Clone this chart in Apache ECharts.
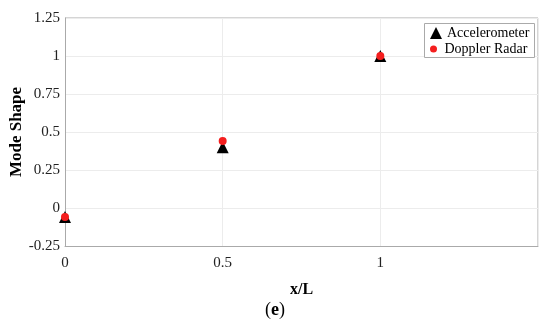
<!DOCTYPE html>
<html><head><meta charset="utf-8">
<script src="https://cdn.jsdelivr.net/npm/echarts@6/dist/echarts.min.js"></script>
<style>html,body{margin:0;padding:0;background:#fff}#c{width:550px;height:322px}</style>
</head><body><div id="c"></div>
<script>
const xPositions = [0, 0.5, 1];
const accelerometer = [-0.06, 0.40, 1.0];
const dopplerRadar = [-0.06, 0.44, 1.0];
const seriesNames = ['Accelerometer', 'Doppler Radar'];

const font = '"Liberation Serif", "Times New Roman", serif';
const chart = echarts.init(document.getElementById('c'));
const legendText = {fontFamily: font, fontSize: 14, color: '#000'};
chart.setOption({
  animation: false,
  backgroundColor: '#fff',
  grid: {left: 65, right: 12, top: 18, bottom: 76, containLabel: false, outerBoundsMode: 'none'},
  legend: [
    {left: 430, top: 26, orient: 'vertical', itemWidth: 12, itemHeight: 12, padding: 0, itemGap: 0,
      textStyle: legendText, data: [{name: seriesNames[0], icon: 'triangle'}]},
    {left: 430, top: 42, orient: 'vertical', itemWidth: 12, itemHeight: 7, padding: 0, itemGap: 0,
      textStyle: legendText, data: [{name: seriesNames[1], icon: 'circle'}]}
  ],
  xAxis: {
    type: 'value', min: 0, max: 1.5, interval: 0.5,
    name: 'x/L', nameLocation: 'middle', nameGap: 36, nameMoveOverlap: false,
    nameTextStyle: {fontFamily: font, fontSize: 16, fontWeight: 'bold', color: '#000'},
    axisLine: {onZero: false, lineStyle: {color: '#aaa'}}, axisTick: {show: false},
    axisLabel: {fontFamily: font, fontSize: 15, color: '#222', margin: 10,
      formatter: v => v === 1.5 ? '' : String(v)},
    splitLine: {show: true, lineStyle: {color: '#ececec'}}
  },
  yAxis: {
    type: 'value', min: -0.25, max: 1.25, interval: 0.25,
    name: 'Mode Shape', nameLocation: 'middle', nameGap: 40, nameMoveOverlap: false,
    nameTextStyle: {fontFamily: font, fontSize: 17, fontWeight: 'bold', color: '#000'},
    axisLine: {show: true, onZero: false, lineStyle: {color: '#aaa'}}, axisTick: {show: false},
    axisLabel: {fontFamily: font, fontSize: 15, color: '#222', margin: 5},
    splitLine: {show: true, lineStyle: {color: '#ececec'}}
  },
  graphic: [
    {type: 'line', shape: {x1: 65, y1: 18, x2: 538, y2: 18}, style: {stroke: '#aaa', lineWidth: 1}, silent: true},
    {type: 'line', shape: {x1: 538, y1: 18, x2: 538, y2: 246}, style: {stroke: '#aaa', lineWidth: 1}, silent: true},
    {type: 'rect', shape: {x: 424.5, y: 23.5, width: 110, height: 34}, z: 1,
      style: {fill: '#fff', stroke: '#aaa', lineWidth: 1}, silent: true},
    {type: 'text', left: 'center', top: 301,
      style: {text: '({b|e})', fontFamily: font, fontSize: 18, fill: '#000',
        rich: {b: {fontFamily: font, fontSize: 18, fontWeight: 'bold', fill: '#000'}}}}
  ],
  series: [
    {name: seriesNames[0], type: 'scatter', symbol: 'triangle', symbolSize: 12,
      itemStyle: {color: '#000', opacity: 1}, data: xPositions.map((x, i) => [x, accelerometer[i]])},
    {name: seriesNames[1], type: 'scatter', symbol: 'circle', symbolSize: 8,
      itemStyle: {color: '#f41e1e', opacity: 1}, data: xPositions.map((x, i) => [x, dopplerRadar[i]])}
  ]
});
</script></body></html>
